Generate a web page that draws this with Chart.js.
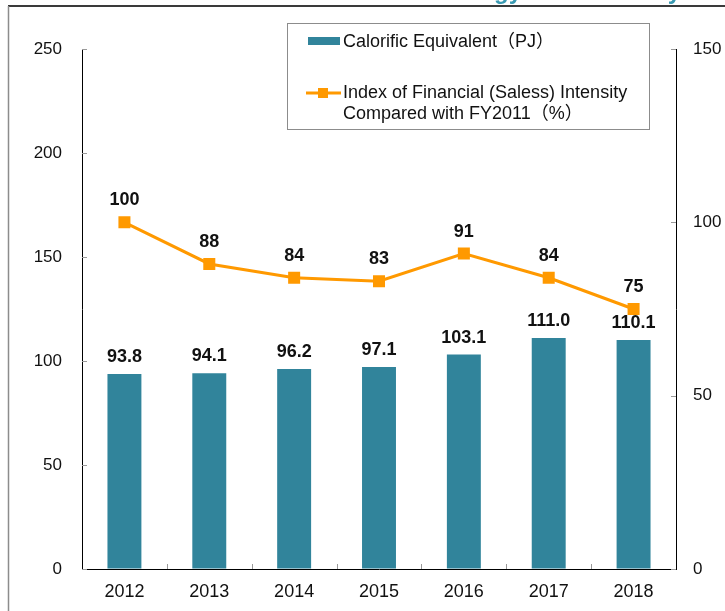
<!DOCTYPE html>
<html>
<head>
<meta charset="utf-8">
<script src="https://cdn.jsdelivr.net/npm/chart.js@4"></script>
<style>
  body { margin: 0; background: #fff; }
  #wrap { width: 725px; height: 611px; }
</style>
</head>
<body>
<div id="wrap"><canvas id="chart" width="725" height="611"></canvas></div>
<script>
// Chart data
const years = ["2012", "2013", "2014", "2015", "2016", "2017", "2018"];
const calorific = [93.8, 94.1, 96.2, 97.1, 103.1, 111.0, 110.1];
const intensityIndex = [100, 88, 84, 83, 91, 84, 75];
const leftTicks = [0, 50, 100, 150, 200, 250];
const rightTicks = [0, 50, 100, 150];

const barLabels = ["93.8", "94.1", "96.2", "97.1", "103.1", "111.0", "110.1"];
const barLegend = "Calorific Equivalent（PJ）";
const lineLegend = ["Index of Financial (Saless) Intensity", "Compared with FY2011（%）"];

const FONT = "'Liberation Sans', Arial, 'Noto Sans CJK JP', sans-serif";
const TEAL = "#31849b";
const ORANGE = "#ff9900";

// frame, cut-off title, inner ticks, value labels and legend
const extras = {
  id: "extras",
  afterDraw(chart) {
    let ctx = chart.ctx;
    let area = chart.chartArea;
    let x = chart.scales.x, yL = chart.scales.y, yR = chart.scales.y1;
    ctx.save();

    // cut-off title at the very top
    ctx.fillStyle = "#3a9ab2";
    ctx.font = "bold 24px " + FONT;
    ctx.textBaseline = "alphabetic";
    ctx.textAlign = "right";
    ctx.fillText("Trends in Energy", 522, -1);
    ctx.fillText("Efficiency", 681, -1);

    // outer frame lines
    ctx.strokeStyle = "#3a3a3a";
    ctx.lineWidth = 2;
    ctx.beginPath();
    ctx.moveTo(8, 6);
    ctx.lineTo(725, 6);
    ctx.stroke();
    ctx.strokeStyle = "#8c8c8c";
    ctx.lineWidth = 1.5;
    ctx.beginPath();
    ctx.moveTo(8.5, 6);
    ctx.lineTo(8.5, 611);
    ctx.stroke();

    // ticks pointing inwards
    ctx.strokeStyle = "#999";
    ctx.lineWidth = 1;
    ctx.beginPath();
    leftTicks.forEach(v => {
      let py = Math.round(yL.getPixelForValue(v)) + 0.5;
      ctx.moveTo(area.left, py);
      ctx.lineTo(area.left + 5, py);
    });
    rightTicks.forEach(v => {
      let py = Math.round(yR.getPixelForValue(v)) + 0.5;
      ctx.moveTo(area.right - 5, py);
      ctx.lineTo(area.right, py);
    });
    for (let i = 1; i < years.length; i++) {
      let px = Math.round((x.getPixelForValue(i - 1) + x.getPixelForValue(i)) / 2) + 0.5;
      ctx.moveTo(px, area.bottom);
      ctx.lineTo(px, area.bottom - 5);
    }
    ctx.stroke();

    // value labels
    ctx.fillStyle = "#111";
    ctx.font = "bold 18px " + FONT;
    ctx.textAlign = "center";
    ctx.textBaseline = "alphabetic";
    chart.getDatasetMeta(0).data.forEach((bar, i) => {
      ctx.fillText(barLabels[i], bar.x, bar.y - 12);
    });
    chart.getDatasetMeta(1).data.forEach((pt, i) => {
      ctx.fillText(String(intensityIndex[i]), pt.x, pt.y - 17);
    });

    // legend box
    ctx.fillStyle = "#fff";
    ctx.fillRect(287, 23, 362, 106);
    ctx.strokeStyle = "#8c8c8c";
    ctx.lineWidth = 1;
    ctx.strokeRect(287.5, 23.5, 362, 106);

    ctx.fillStyle = TEAL;
    ctx.fillRect(308, 37, 32, 8);

    ctx.strokeStyle = ORANGE;
    ctx.lineWidth = 3;
    ctx.beginPath();
    ctx.moveTo(306, 93);
    ctx.lineTo(341, 93);
    ctx.stroke();
    ctx.fillStyle = ORANGE;
    ctx.fillRect(318, 88, 10, 10);

    ctx.fillStyle = "#111";
    ctx.font = "18px " + FONT;
    ctx.textAlign = "left";
    ctx.textBaseline = "middle";
    ctx.fillText(barLegend, 343, 42);
    ctx.fillText(lineLegend[0], 343, 93);
    ctx.fillText(lineLegend[1], 343, 114);

    ctx.restore();
  }
};

new Chart(document.getElementById("chart"), {
  type: "bar",
  data: {
    labels: years,
    datasets: [
      {
        type: "bar",
        label: barLegend,
        data: calorific,
        backgroundColor: TEAL,
        yAxisID: "y",
        categoryPercentage: 1,
        barPercentage: 0.4,
        order: 2
      },
      {
        type: "line",
        label: lineLegend.join(" "),
        data: intensityIndex,
        borderColor: ORANGE,
        backgroundColor: ORANGE,
        borderWidth: 3,
        pointStyle: "rect",
        pointRadius: 8.5,
        pointBorderWidth: 0,
        yAxisID: "y1",
        order: 1
      }
    ]
  },
  options: {
    responsive: false,
    animation: false,
    layout: { padding: { top: 49, left: 0, right: 0, bottom: 0 } },
    plugins: { legend: { display: false }, tooltip: { enabled: false } },
    scales: {
      x: {
        offset: true,
        grid: { drawOnChartArea: false, drawTicks: false },
        border: { display: true, color: "#000", width: 1 },
        ticks: { color: "#111", font: { family: FONT, size: 18 }, padding: 12 },
        afterFit: s => { s.height = 42; }
      },
      y: {
        position: "left",
        min: 0,
        max: 250,
        grid: { drawOnChartArea: false, drawTicks: false },
        border: { display: true, color: "#000", width: 1 },
        ticks: { stepSize: 50, color: "#111", font: { family: FONT, size: 17 }, padding: 20 },
        afterFit: s => { s.width = 82; }
      },
      y1: {
        position: "right",
        min: 0,
        max: 150,
        grid: { drawOnChartArea: false, drawTicks: false },
        border: { display: true, color: "#000", width: 1 },
        ticks: { stepSize: 50, color: "#111", font: { family: FONT, size: 17 }, padding: 17 },
        afterFit: s => { s.width = 49; }
      }
    }
  },
  plugins: [extras]
});
</script>
</body>
</html>
